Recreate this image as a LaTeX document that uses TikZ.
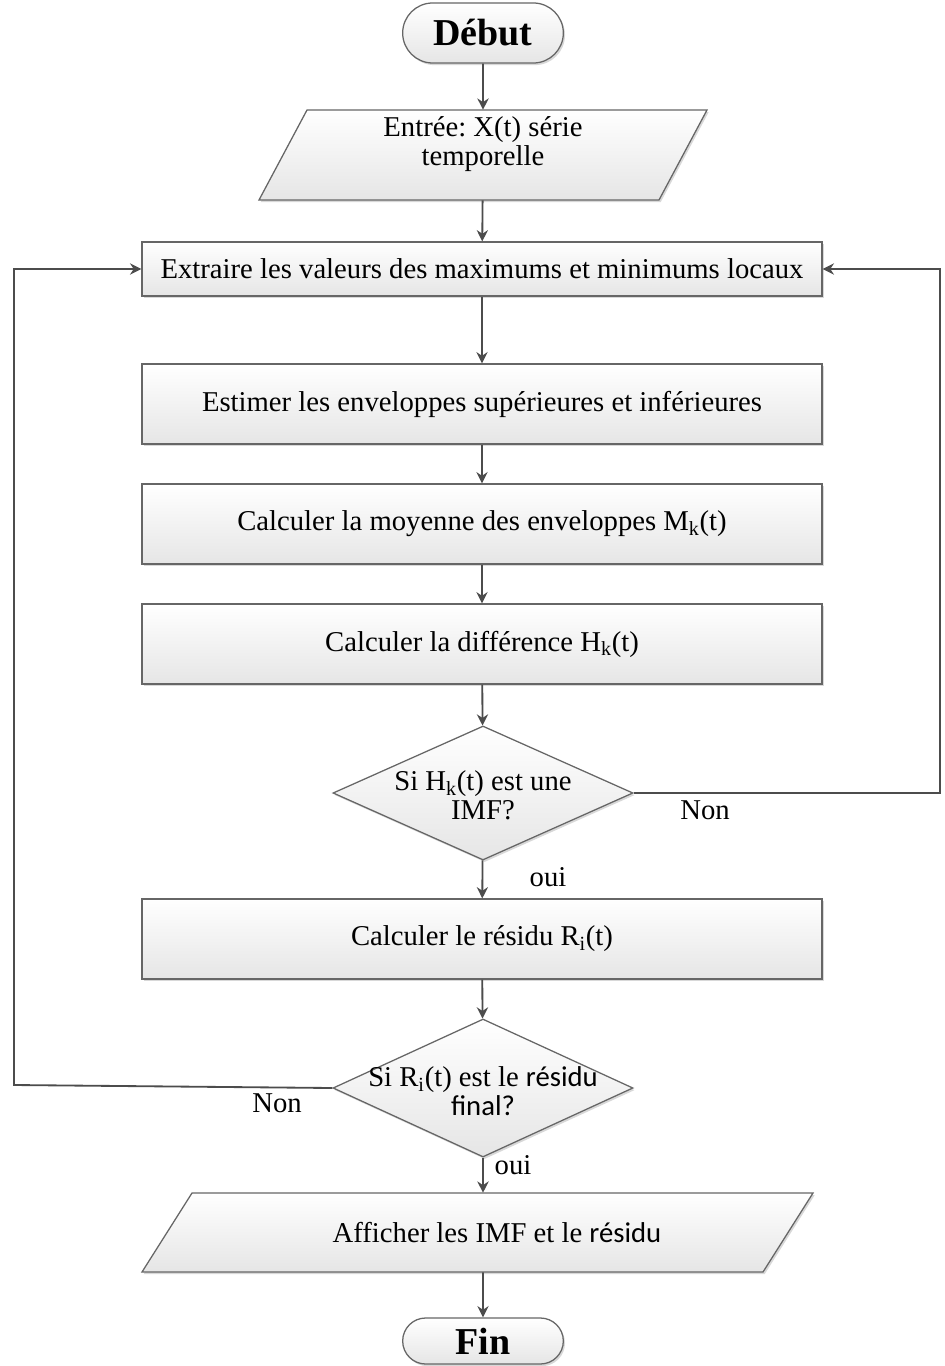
\documentclass[tikz,border=0pt]{standalone}
\usepackage{fontspec}
\setmainfont{Liberation Serif}
\newfontfamily\residufont{Carlito}
\usepackage{tikz}
\usetikzlibrary{arrows.meta, shapes.geometric, shapes.misc, shadows}
\definecolor{linegray}{rgb}{0.30, 0.30, 0.30}
\definecolor{edgegray}{rgb}{0.40, 0.40, 0.40}
\definecolor{boxbottom}{rgb}{0.90, 0.90, 0.90}
\frenchspacing
% two centred lines, moved up or down without changing the node size
\newcommand{\twolines}[3]{\makebox[0pt]{\raisebox{#1}[0pt][0pt]{\begin{tabular}{@{}c@{}}#2\\#3\end{tabular}}}}

\begin{document}
\begin{tikzpicture}[x=0.025cm, y=-0.025cm, >={Stealth[length=8pt, width=8pt]},
    font=\fontsize{20.4}{20.5}\selectfont,
    shapebase/.style={draw=edgegray, line width=0.9pt, top color=white, bottom color=boxbottom,
        drop shadow={shadow xshift=1.2pt, shadow yshift=-1.5pt, opacity=0.3}},
    terminal/.style={shapebase, rounded rectangle, minimum width=4.25cm, font=\fontsize{27}{30}\selectfont\bfseries},
    process/.style={shapebase, rectangle, minimum width=17cm, minimum height=2cm},
    iotext/.style={rectangle, inner sep=0pt},
    decision/.style={shapebase, diamond, aspect=2.25, inner sep=0pt, minimum width=7.5cm},
    flow/.style={->, draw=linegray, line width=1.3pt},
    tag/.style={inner sep=1pt}]
        \path[fill=white, use as bounding box] (0,0) rectangle (945,1366);
        % Start and input
        \node[terminal, minimum height=1.5cm] (debut) at (483,33) {Début};
        \draw[shapebase] (307,110) -- (707,110) -- (659,200) -- (259,200) -- cycle;
        \node[iotext, minimum height=2.25cm] (entree) at (483,155) {\twolines{2pt}{Entrée: X(t) série}{temporelle}};
        % Sifting steps
        \node[process, minimum height=1.35cm] (extraire) at (482,269) {Extraire les valeurs des maximums et minimums locaux};
        \node[process] (estimer) at (482,404) {Estimer les enveloppes supérieures et inférieures};
        \node[process] (moyenne) at (482,524) {Calculer la moyenne des enveloppes M\textsubscript{k}(t)};
        \node[process] (difference) at (482,644) {Calculer la différence H\textsubscript{k}(t)};
        \node[decision, minimum height=3.35cm] (imf) at (483,793) {\twolines{-9.7pt}{Si H\textsubscript{k}(t) est une}{IMF?}};
        % Residue
        \node[process] (residu) at (482,939) {Calculer le résidu R\textsubscript{i}(t)};
        \node[decision, minimum height=3.45cm] (final) at (483,1088) {\twolines{-10.4pt}{Si R\textsubscript{i}(t) est le {\residufont résidu}}{{\residufont final?}}};
        % Output and end
        \draw[shapebase] (192,1193) -- (813,1193) -- (763,1272) -- (142,1272) -- cycle;
        \node[iotext, minimum height=1.975cm] (afficher) at (497,1232.5) {Afficher les IMF et le {\residufont résidu}};
        \node[terminal, minimum height=1.15cm] (fin) at (483,1341) {Fin};
        % Main flow
        \draw[flow] (debut) -- (entree);
        \draw[flow] (entree) -- (extraire);
        \draw[flow] (extraire) -- (estimer);
        \draw[flow] (estimer) -- (moyenne);
        \draw[flow] (moyenne) -- (difference);
        \draw[flow] (difference) -- (imf);
        \draw[flow] (imf) -- (residu);
        \draw[flow] (residu) -- (final);
        \draw[flow] (final) -- (afficher.north -| final);
        \draw[flow] (afficher.south -| fin) -- (fin);
        % Loops back
        \coordinate (droite) at (940,793);
        \coordinate (gauche) at (14,1085);
        \draw[flow] (imf.east) -- (droite) |- (extraire.east);
        \draw[flow] (final.west) -- (gauche) |- (extraire.west);
        % Branch labels
        \node[tag] (non1) at (705,810) {Non};
        \node[tag] (oui1) at (548,877) {oui};
        \node[tag] (non2) at (277,1103) {Non};
        \node[tag] (oui2) at (513,1165) {oui};
    \end{tikzpicture}
\end{document}
